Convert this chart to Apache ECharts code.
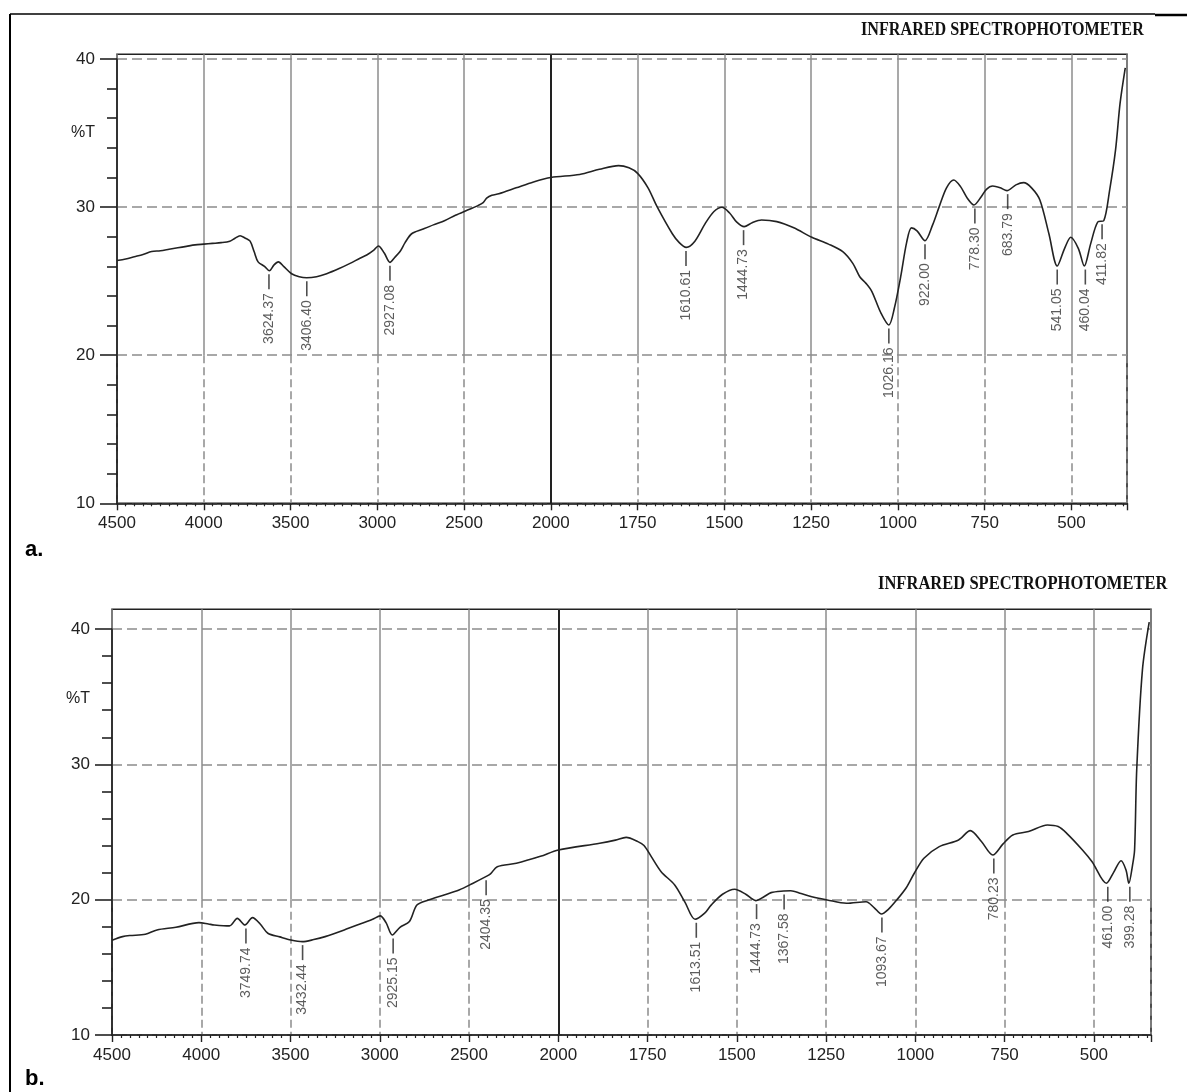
<!DOCTYPE html>
<html>
<head>
<meta charset="utf-8">
<style>
html, body { margin: 0; padding: 0; background: #fff; }
#chart { width: 1187px; height: 1092px; }
</style>
<script src="https://cdn.jsdelivr.net/npm/echarts@6/dist/echarts.min.js"></script>
</head>
<body>
<div id="chart"></div>
<script>
// x tick labels (cm-1); the axis is compressed 2:1 above 2000
const xTicks = [4500, 4000, 3500, 3000, 2500, 2000, 1750, 1500, 1250, 1000, 750, 500];
const yTicks = [10, 20, 30, 40];

// spectrum a
const waveA = [4500, 4450, 4400, 4350, 4300, 4250, 4200, 4150, 4100, 4050, 4000, 3950, 3900, 3850, 3820, 3791,
  3760, 3733, 3710, 3687, 3650, 3622, 3595, 3570, 3540, 3494, 3450, 3407, 3350, 3292, 3220, 3157, 3100, 3061,
  3020, 2994, 2960, 2927, 2900, 2869, 2840, 2802, 2740, 2677, 2610, 2550, 2480, 2420, 2390, 2370, 2340, 2300,
  2200, 2100, 2000, 1917, 1860, 1805, 1775, 1750, 1720, 1694, 1650, 1630, 1610, 1585, 1555, 1530, 1507, 1485,
  1465, 1443, 1420, 1393, 1349, 1300, 1248, 1200, 1159, 1130, 1110, 1092, 1075, 1050, 1026, 1010, 992, 975,
  961, 945, 922, 900, 881, 860, 839, 820, 800, 781, 760, 745, 727, 705, 686, 660, 638, 615, 591, 565, 541,
  520, 502, 480, 463, 445, 424, 407, 390, 373, 360, 345];
const transA = [26.4, 26.5, 26.65, 26.8, 27.0, 27.05, 27.15, 27.25, 27.35, 27.45, 27.5, 27.55, 27.6, 27.7, 27.9, 28.07,
  27.9, 27.7, 27.0, 26.3, 26.0, 25.7, 26.1, 26.3, 26.0, 25.5, 25.3, 25.23, 25.3, 25.5, 25.85, 26.2, 26.55, 26.77,
  27.1, 27.37, 26.9, 26.27, 26.6, 27.0, 27.6, 28.2, 28.5, 28.8, 29.1, 29.45, 29.8, 30.1, 30.3, 30.6, 30.8, 30.9,
  31.3, 31.7, 32.0, 32.2, 32.55, 32.8, 32.65, 32.28, 31.3, 30.03, 28.2, 27.6, 27.28, 27.7, 28.9, 29.7, 29.99, 29.6,
  29.0, 28.68, 28.95, 29.13, 29.02, 28.6, 27.96, 27.5, 26.99, 26.2, 25.3, 24.85, 24.3, 22.9, 22.04, 23.2, 25.3, 27.6,
  28.6, 28.4, 27.73, 28.8, 30.03, 31.3, 31.83, 31.4, 30.6, 30.14, 30.7, 31.2, 31.42, 31.3, 31.11, 31.5, 31.65, 31.3, 30.48, 28.2, 26.02,
  27.2, 27.96, 27.2, 26.02, 27.5, 29.0, 29.08, 31.15, 33.86, 37.0, 39.4];
const peakWaveA = [3624.37, 3406.40, 2927.08, 1610.61, 1444.73, 1026.16, 922.00, 778.30, 683.79, 541.05, 460.04, 411.82];
const peakTransA = [25.7, 25.23, 26.27, 27.28, 28.68, 22.04, 27.73, 30.14, 31.11, 26.02, 26.02, 29.08];

// spectrum b
const waveB = [4500, 4441, 4400, 4313, 4248, 4142, 4013, 3960, 3927, 3842, 3798, 3755, 3713, 3670, 3627, 3560,
  3498, 3434, 3370, 3306, 3199, 3091, 3040, 2998, 2965, 2930, 2887, 2834, 2792, 2728, 2640, 2556, 2480, 2406,
  2380, 2342, 2235, 2100, 2000, 1884, 1840, 1810, 1777, 1760, 1740, 1712, 1674, 1645, 1617, 1590, 1572, 1540,
  1506, 1475, 1447, 1425, 1404, 1369, 1349, 1320, 1290, 1247, 1193, 1138, 1115, 1095, 1075, 1052, 1025, 1003,
  976, 933, 879, 846, 815, 783, 755, 727, 683, 630, 600, 576, 532, 505, 465, 445, 424, 410, 402, 392, 386,
  380, 364, 345];
const transB = [17.0, 17.27, 17.35, 17.44, 17.76, 17.96, 18.3, 18.2, 18.13, 18.06, 18.62, 18.13, 18.67, 18.2, 17.52, 17.25,
  17.02, 16.9, 17.05, 17.27, 17.76, 18.3, 18.55, 18.8, 18.3, 17.39, 17.96, 18.38, 19.6, 19.98, 20.35, 20.72, 21.2, 21.7,
  21.9, 22.44, 22.69, 23.2, 23.67, 24.17, 24.4, 24.6, 24.29, 24.0, 23.2, 22.07, 21.09, 19.8, 18.55, 19.0, 19.6, 20.4,
  20.77, 20.4, 19.93, 20.2, 20.52, 20.64, 20.66, 20.45, 20.22, 19.98, 19.73, 19.85, 19.4, 18.94, 19.3, 19.98, 20.9, 21.95,
  23.06, 23.92, 24.41, 25.1, 24.3, 23.3, 24.1, 24.78, 25.03, 25.52, 25.4, 24.9, 23.67, 22.8, 21.21, 22.0, 22.88, 22.2, 21.21, 22.5, 23.67,
  29.6, 36.98, 40.5];
const peakWaveB = [3749.74, 3432.44, 2925.15, 2404.35, 1613.51, 1444.73, 1367.58, 1093.67, 780.23, 461.00, 399.28];
const peakTransB = [18.13, 16.9, 17.39, 21.7, 18.55, 19.93, 20.64, 18.94, 23.3, 21.21, 21.21];

// broken wavenumber axis: 4500-2000 at half the scale of 2000-340
const X_END = 340;
function toU(w) { return w >= 2000 ? (4500 - w) / 2 : 1250 + (2000 - w); }
function fromU(u) { return u <= 1250 ? 4500 - 2 * u : 2000 - (u - 1250); }
const U_MAX = toU(X_END);

const chart = echarts.init(document.getElementById('chart'));

const INK = '#222';
const GRIDC = '#8c8c8c';
const panels = [
  { left: 117, right: 1127, boxTop: 54.3, y40: 59, y10: 503.3, wave: waveA, trans: transA, pw: peakWaveA, pt: peakTransA },
  { left: 112, right: 1151, boxTop: 609.3, y40: 629, y10: 1035, wave: waveB, trans: transB, pw: peakWaveB, pt: peakTransB }
];

const grid = [], xAxis = [], yAxis = [], series = [];

panels.forEach(function (p) {
  const width = p.right - p.left;
  const yMax = 40 + 30 * (p.y40 - p.boxTop) / (p.y10 - p.y40);
  const y20 = p.y10 - (p.y10 - p.y40) / 3;
  const base = grid.length;

  // 0: box + data
  grid.push({ left: p.left, width: width, top: p.boxTop, height: p.y10 - p.boxTop, show: true,
    borderColor: INK, borderWidth: 1.6, backgroundColor: 'transparent' });
  // 1: visible axes, dashed horizontal lines
  grid.push({ left: p.left, width: width, top: p.y40, height: p.y10 - p.y40 });
  // 2: solid vertical lines in the upper part
  grid.push({ left: p.left, width: width, top: p.boxTop, height: y20 - p.boxTop });
  // 3: dashed vertical lines below 20
  grid.push({ left: p.left, width: width, top: y20, height: p.y10 - y20 });

  const hidden = { axisLine: { show: false }, axisTick: { show: false }, axisLabel: { show: false } };

  xAxis.push(Object.assign({ gridIndex: base, type: 'value', min: 0, max: U_MAX, splitLine: { show: false } }, hidden));
  yAxis.push(Object.assign({ gridIndex: base, type: 'value', min: 10, max: yMax, splitLine: { show: false } }, hidden));

  xAxis.push({
    gridIndex: base + 1, type: 'value', min: 0, max: U_MAX, interval: 250,
    axisLine: { lineStyle: { color: INK, width: 1.6 } },
    axisTick: { length: 7, lineStyle: { color: INK, width: 1.4 } },
    minorTick: { show: true, splitNumber: 10, length: 3, lineStyle: { color: INK, width: 1.2 } },
    axisLabel: {
      margin: 12, fontSize: 17, color: INK, fontFamily: 'Liberation Sans',
      formatter: function (u) {
        const w = Math.round(fromU(u));
        return xTicks.indexOf(w) >= 0 ? String(w) : '';
      }
    },
    splitLine: { show: false }
  });
  yAxis.push({
    gridIndex: base + 1, type: 'value', min: 10, max: 40, interval: 10,
    axisLine: { show: true, lineStyle: { color: INK, width: 1.6 } },
    axisTick: { show: true, length: 17, lineStyle: { color: INK, width: 1.6 } },
    minorTick: { show: true, splitNumber: 5, length: 10, lineStyle: { color: INK, width: 1.6 } },
    axisLabel: { margin: 22, fontSize: 17, color: INK, fontFamily: 'Liberation Sans',
      formatter: function (v) { return yTicks.indexOf(v) >= 0 ? String(v) : ''; } },
    splitLine: { show: true, lineStyle: { color: GRIDC, width: 1.5, type: [10, 5] } }
  });

  xAxis.push(Object.assign({ gridIndex: base + 2, type: 'value', min: 0, max: U_MAX, interval: 250,
    splitLine: { show: true, lineStyle: { color: GRIDC, width: 1.5 } } }, hidden));
  yAxis.push(Object.assign({ gridIndex: base + 2, type: 'value', min: 20, max: yMax, splitLine: { show: false } }, hidden));

  xAxis.push(Object.assign({ gridIndex: base + 3, type: 'value', min: 0, max: U_MAX, interval: 250,
    splitLine: { show: true, lineStyle: { color: GRIDC, width: 1.5, type: [8, 4] } } }, hidden));
  yAxis.push(Object.assign({ gridIndex: base + 3, type: 'value', min: 10, max: 20, splitLine: { show: false } }, hidden));

  series.push({
    type: 'line', xAxisIndex: base, yAxisIndex: base, showSymbol: false, smooth: 0.3, clip: true,
    lineStyle: { color: INK, width: 1.6 },
    data: p.wave.map(function (w, i) { return [toU(w), p.trans[i]]; }),
    markLine: {
      silent: true, symbol: 'none', label: { show: false }, animation: false,
      lineStyle: { color: INK, type: 'solid', width: 2 },
      data: [{ xAxis: toU(2000) }]
    },
    z: 3
  });
  series.push({
    type: 'scatter', xAxisIndex: base, yAxisIndex: base, silent: true,
    symbol: 'rect', symbolSize: [1.6, 15], symbolOffset: [0, 11],
    itemStyle: { color: INK },
    label: {
      show: true, position: 'bottom', distance: 4, rotate: 90, align: 'right', verticalAlign: 'middle',
      fontSize: 14, color: '#333', fontFamily: 'Liberation Sans',
      formatter: function (d) { return d.value[2].toFixed(2); }
    },
    data: p.pw.map(function (w, i) { return [toU(w), p.pt[i], w]; }),
    z: 4
  });
});

const titleFont = 'bold 19px "Liberation Serif", serif';
chart.setOption({
  animation: false,
  grid: grid, xAxis: xAxis, yAxis: yAxis, series: series,
  graphic: [
    { type: 'line', shape: { x1: 10, y1: 14, x2: 1155, y2: 14 }, style: { stroke: '#000', lineWidth: 1.5 } },
    { type: 'line', shape: { x1: 1155, y1: 15, x2: 1187, y2: 15 }, style: { stroke: '#000', lineWidth: 2.5 } },
    { type: 'line', shape: { x1: 10, y1: 14, x2: 10, y2: 1092 }, style: { stroke: '#000', lineWidth: 2 } },
    { type: 'text', x: 861, y: 30, scaleX: 0.85,
      style: { text: 'INFRARED SPECTROPHOTOMETER', font: titleFont, fill: '#111', textAlign: 'left', textVerticalAlign: 'middle', align: 'left', verticalAlign: 'middle' } },
    { type: 'text', x: 878, y: 584, scaleX: 0.87,
      style: { text: 'INFRARED SPECTROPHOTOMETER', font: titleFont, fill: '#111', textAlign: 'left', textVerticalAlign: 'middle', align: 'left', verticalAlign: 'middle' } },
    { type: 'text', x: 95, y: 133,
      style: { text: '%T', font: '16px "Liberation Sans"', fill: INK, textAlign: 'right', textVerticalAlign: 'middle', align: 'right', verticalAlign: 'middle' } },
    { type: 'text', x: 90, y: 699,
      style: { text: '%T', font: '16px "Liberation Sans"', fill: INK, textAlign: 'right', textVerticalAlign: 'middle', align: 'right', verticalAlign: 'middle' } },
    { type: 'text', x: 25, y: 561,
      style: { text: 'a.', font: 'bold 22px "Liberation Sans"', fill: '#000', textAlign: 'left', textVerticalAlign: 'bottom', align: 'left', verticalAlign: 'bottom' } },
    { type: 'text', x: 25, y: 1090,
      style: { text: 'b.', font: 'bold 22px "Liberation Sans"', fill: '#000', textAlign: 'left', textVerticalAlign: 'bottom', align: 'left', verticalAlign: 'bottom' } }
  ]
});
</script>
</body>
</html>
